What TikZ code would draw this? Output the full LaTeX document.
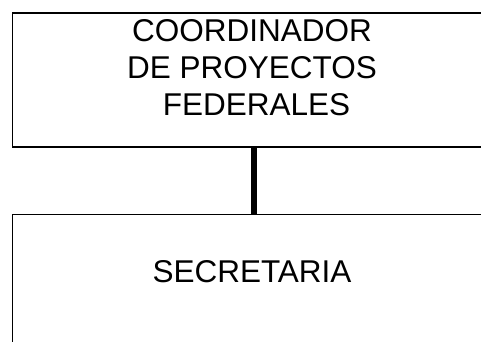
\documentclass[tikz,border=0pt]{standalone}
\usepackage{fontspec}
\setmainfont{Liberation Sans}
\begin{document}
\begin{tikzpicture}[x=1pt,y=1pt,
  box/.style={draw=black, line width=1.6pt, rectangle, minimum width=483pt, inner sep=0pt},
  txt/.style={align=center, inner sep=0pt, font=\fontsize{31.5}{36.7}\selectfont},
  link/.style={line width=5.5pt, draw=black}]
\useasboundingbox (0,0) rectangle (481,-341);
\clip (0,0) rectangle (481,-341);
\node[box, minimum height=134pt, anchor=north] (coord) at (254,-12) {};
\node[txt, anchor=base] (coordt) at (252,-115.2) {COORDINADOR\\DE PROYECTOS\\\hspace*{0.28em}FEDERALES};
\node[box, minimum height=200pt, anchor=north] (sec) at (254,-213.5) {};
\node[txt, anchor=base] (sect) at (252,-282) {SECRETARIA};
\draw[link] (coord.south) -- (sec.north);
\end{tikzpicture}
\end{document}
